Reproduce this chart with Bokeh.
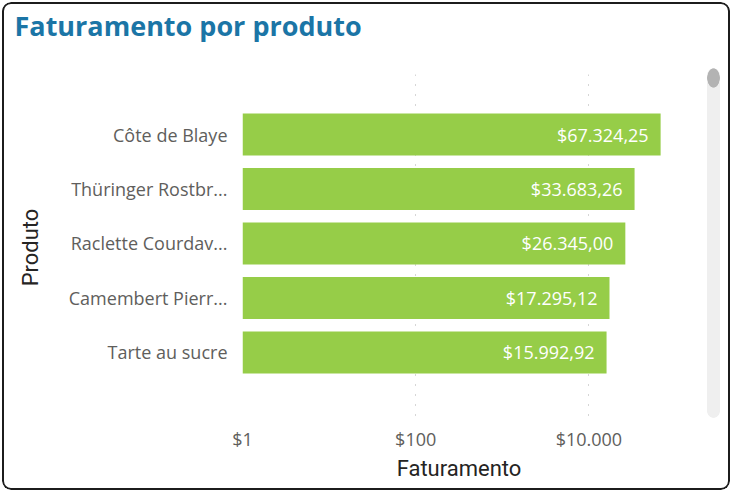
from bokeh.plotting import figure
from bokeh.models import Range1d, FixedTicker, ColumnDataSource, Title
from bokeh.core.properties import value
from bokeh.embed import file_html
from bokeh.resources import INLINE

# ---- data ----
products = ["Côte de Blaye", "Thüringer Rostbratwurst", "Raclette Courdavault",
            "Camembert Pierrot", "Tarte au sucre"]
product_labels = ["Côte de Blaye", "Thüringer Rostbr...", "Raclette Courdav...",
                  "Camembert Pierr...", "Tarte au sucre"]
revenue = [67324.25, 33683.26, 26345.00, 17295.12, 15992.92]
x_ticks = [1, 100, 10000]
x_tick_labels = ["$1", "$100", "$10.000"]


def brl(v):
    s = f"{v:,.2f}"
    return "$" + s.replace(",", "X").replace(".", ",").replace("X", ".")


idx = list(range(len(products)))
src = ColumnDataSource(dict(y=idx, value=revenue, left=[1] * len(revenue),
                            label=[brl(v) for v in revenue]))

W, H = 728, 488
p = figure(width=W, height=H, x_axis_type="log",
           x_range=Range1d(1, 1e5), y_range=Range1d(5.248, -1.101),
           output_backend="svg", toolbar_location=None,
           min_border_left=240, min_border_right=W - 673,
           min_border_top=72, min_border_bottom=H - 418)
p.title = None

# card frame + scrollbar decoration drawn as CSS backgrounds of the figure
scrollbar_bg = ", ".join([
    "radial-gradient(ellipse 6.5px 10px at 711.5px 76px, #B3B3B3 92%, rgba(179,179,179,0) 100%) no-repeat",
    "radial-gradient(circle 6.5px at 711.5px 72.5px, #EFEFEF 92%, rgba(239,239,239,0) 100%) no-repeat",
    "radial-gradient(circle 6.5px at 711.5px 409.5px, #EFEFEF 92%, rgba(239,239,239,0) 100%) no-repeat",
    "linear-gradient(#EFEFEF, #EFEFEF) 705px 72px / 13px 338px no-repeat",
    "white",
])
p.styles = {"margin": "2px 0 0 2px", "border-radius": "9px",
            "box-shadow": "inset 0 0 0 2px #1c1c1c", "background": scrollbar_bg}
p.border_fill_color = None
p.background_fill_color = None
p.outline_line_color = None

# spacer between frame and title, then the title itself
p.add_layout(Title(text=" ", text_font_size="1px", standoff=27.5), "above")
p.add_layout(Title(text="Faturamento por produto", align="left", offset=-228,
                   standoff=0, text_font="Open Sans", text_font_style="bold",
                   text_font_size="27px", text_color="#1B75A6"), "above")

p.hbar(y="y", left="left", right="value", height=0.77, source=src,
       fill_color="#96CD48", line_color=None)
p.text(x="value", y="y", text="label", source=src, text_align="right",
       text_baseline="middle", x_offset=-12, text_color="white",
       text_font=value("Open Sans"), text_font_size="18px")

# x axis
xa = p.xaxis[0]
xa.ticker = FixedTicker(ticks=x_ticks)
xa.major_label_overrides = {t: l for t, l in zip(x_ticks, x_tick_labels)}
xa.axis_line_color = None
xa.major_tick_line_color = None
xa.minor_tick_line_color = None
xa.major_label_text_font = "Open Sans"
xa.major_label_text_font_size = "18px"
xa.major_label_text_color = "#605E5C"
xa.major_label_standoff = 0
xa.axis_label = "Faturamento"
xa.axis_label_text_font = "Roboto"
xa.axis_label_text_font_style = "normal"
xa.axis_label_text_font_size = "22px"
xa.axis_label_text_color = "#252423"
xa.axis_label_standoff = 2

# y axis
ya = p.yaxis[0]
ya.ticker = FixedTicker(ticks=idx)
ya.major_label_overrides = {i: l for i, l in zip(idx, product_labels)}
ya.axis_line_color = None
ya.major_tick_line_color = None
ya.minor_tick_line_color = None
ya.major_label_text_font = "Open Sans"
ya.major_label_text_font_size = "18px"
ya.major_label_text_color = "#605E5C"
ya.major_label_standoff = 9
ya.axis_label = "Produto"
ya.axis_label_text_font = "Roboto"
ya.axis_label_text_font_style = "normal"
ya.axis_label_text_font_size = "22px"
ya.axis_label_text_color = "#252423"
ya.axis_label_standoff = 23

p.ygrid.grid_line_color = None
p.xgrid.grid_line_color = "#ADADAD"
p.xgrid.grid_line_dash = "1 9"
p.xgrid.grid_line_width = 1

open("out.html", "w").write(file_html(p, INLINE))
